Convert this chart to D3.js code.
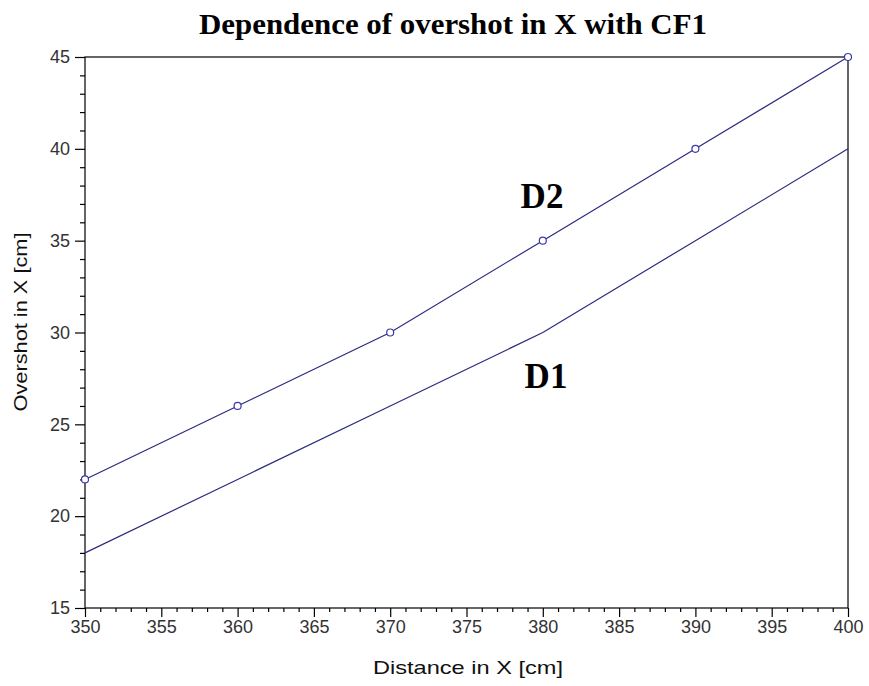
<!DOCTYPE html>
<html><head><meta charset="utf-8">
<script src="https://cdn.jsdelivr.net/npm/d3@7"></script>
<style>body{margin:0;background:#fff}</style>
</head><body>
<script>
const distance = [350, 360, 370, 380, 390, 400];
const d1 = [18, 22, 26, 30, 35, 40];
const d2 = [22, 26, 30, 35, 40, 45];
const xTicks = [350, 355, 360, 365, 370, 375, 380, 385, 390, 395, 400];
const yTicks = [15, 20, 25, 30, 35, 40, 45];

const W = 869, H = 686;
const m = {l: 85, r: 21, t: 57, b: 78};
const svg = d3.select("body").append("svg").attr("width", W).attr("height", H);
const x = d3.scaleLinear().domain([350, 400]).range([m.l, W - m.r]);
const y = d3.scaleLinear().domain([15, 45]).range([H - m.b, m.t]);

const lineCol = "#2b2b7f";
const font = "'Liberation Sans', Arial, sans-serif";
const serif = "'Liberation Serif', 'Times New Roman', serif";

// frame
svg.append("rect").attr("x", x(350)).attr("y", y(45))
  .attr("width", x(400) - x(350)).attr("height", y(15) - y(45))
  .attr("fill", "none").attr("stroke", "#000").attr("stroke-width", 1.2);

// minor ticks
const xMinor = d3.range(350, 401, 1).filter(v => v % 5 !== 0);
const yMinor = d3.range(15, 46, 1).filter(v => v % 5 !== 0);
svg.append("g").attr("transform", `translate(0,${y(15)})`)
  .call(d3.axisBottom(x).tickValues(xMinor).tickSize(4).tickFormat(""))
  .call(g => g.select(".domain").remove());
svg.append("g").attr("transform", `translate(${x(350)},0)`)
  .call(d3.axisLeft(y).tickValues(yMinor).tickSize(5).tickFormat(""))
  .call(g => g.select(".domain").remove());

// major axes
const gx = svg.append("g").attr("transform", `translate(0,${y(15)})`)
  .call(d3.axisBottom(x).tickValues(xTicks).tickSize(9).tickPadding(3).tickFormat(d3.format("d")));
const gy = svg.append("g").attr("transform", `translate(${x(350)},0)`)
  .call(d3.axisLeft(y).tickValues(yTicks).tickSize(10).tickPadding(5).tickFormat(d3.format("d")));
[gx, gy].forEach(g => {
  g.select(".domain").remove();
  g.selectAll("text").attr("font-family", font).attr("font-size", 18).attr("fill", "#333");
});
svg.selectAll("g line").attr("stroke", "#000").attr("stroke-width", 1.2);

// lines
const line = d3.line().x((d, i) => x(distance[i])).y(d => y(d));
svg.append("path").datum(d1).attr("d", line).attr("fill", "none").attr("stroke", lineCol).attr("stroke-width", 1.2);
svg.append("path").datum(d2).attr("d", line).attr("fill", "none").attr("stroke", lineCol).attr("stroke-width", 1.2);
svg.append("g").selectAll("circle").data(d2).join("circle")
  .attr("cx", (d, i) => x(distance[i])).attr("cy", d => y(d)).attr("r", 3.5)
  .attr("fill", "#fff").attr("stroke", "#3a3aa8").attr("stroke-width", 1.2);

// labels
svg.append("text").attr("x", 542).attr("y", 208).attr("text-anchor", "middle")
  .attr("font-family", serif).attr("font-weight", "bold")
  .attr("font-size", 35).text("D2");
svg.append("text").attr("x", 546).attr("y", 388).attr("text-anchor", "middle")
  .attr("font-family", serif).attr("font-weight", "bold")
  .attr("font-size", 35).text("D1");

svg.append("text").attr("x", 453).attr("y", 34).attr("text-anchor", "middle")
  .attr("font-family", serif).attr("font-weight", "bold")
  .attr("font-size", 30).attr("textLength", 508).attr("lengthAdjust", "spacingAndGlyphs")
  .text("Dependence of overshot in X with CF1");

svg.append("text").attr("x", 468).attr("y", 674).attr("text-anchor", "middle")
  .attr("font-family", font).attr("font-size", 18.5).attr("fill", "#111")
  .attr("textLength", 190).attr("lengthAdjust", "spacingAndGlyphs").text("Distance in X [cm]");
svg.append("text").attr("transform", `translate(27,322) rotate(-90)`).attr("text-anchor", "middle")
  .attr("font-family", font).attr("font-size", 18.5).attr("fill", "#111")
  .attr("textLength", 179).attr("lengthAdjust", "spacingAndGlyphs").text("Overshot in X [cm]");
</script>
</body></html>
